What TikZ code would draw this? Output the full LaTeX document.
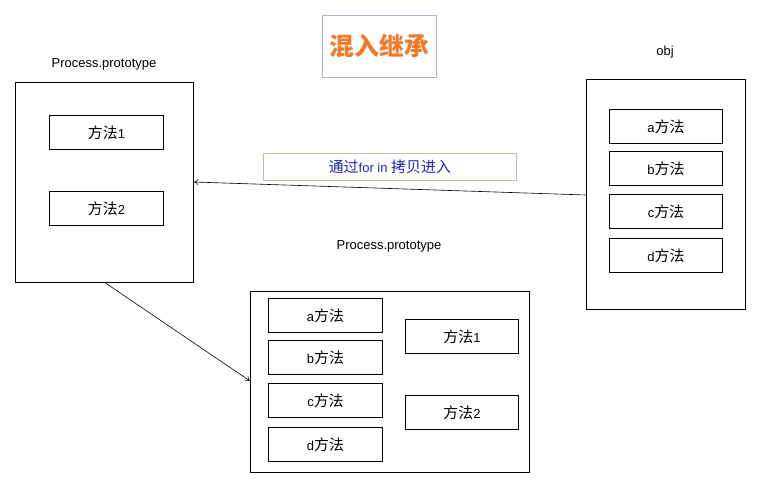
\documentclass[tikz,border=0pt]{standalone}
\usepackage{fontspec}
\setmainfont{Liberation Sans}
\newfontfamily\cjk[Scale=1.15]{Noto Sans CJK SC}
\usetikzlibrary{arrows.meta}
\newcommand{\zh}[1]{{\cjk #1}}
\definecolor{titleorange}{HTML}{F07A2A}
\definecolor{titleframe}{HTML}{AAB6C8}
\definecolor{noteframe}{HTML}{C8BBA6}
\definecolor{noteblue}{HTML}{2222B8}
\begin{document}
\begin{tikzpicture}[x=1pt,y=-1pt,
  every node/.style={font=\fontsize{13}{15}\selectfont},
  frame/.style={draw=black,line width=0.9pt,inner sep=0pt},
  method/.style={draw=black,line width=0.9pt,minimum width=114pt,minimum height=34pt,inner sep=0pt,anchor=north west},
  caption/.style={inner sep=0pt},
  link/.style={draw=black,line width=0.6pt,-{To[length=4.5pt,width=6pt]}}]
\useasboundingbox (0,0) rectangle (760,498);

% title
\node[draw=titleframe,line width=0.8pt,minimum width=114pt,minimum height=62pt,anchor=north west,inner sep=0pt,
      font=\fontsize{21.5}{24}\selectfont\bfseries,text=titleorange] (title) at (322,15) {\zh{混入继承}};

% left prototype
\node[caption] (lcap) at (104,64) {Process.prototype};
\node[frame,minimum width=178pt,minimum height=200pt,anchor=north west] (left) at (15,82) {};
\node[method] (l1) at (49,115) {\zh{方法}1};
\node[method] (l2) at (49,191) {\zh{方法}2};

% obj
\node[caption] (ocap) at (665,52) {obj};
\node[frame,minimum width=159pt,minimum height=230pt,anchor=north west] (obj) at (586,79) {};
\node[method,minimum width=113pt] (oa) at (609,109) {a\zh{方法}};
\node[method,minimum width=113pt] (ob) at (609,151) {b\zh{方法}};
\node[method,minimum width=113pt] (oc) at (609,194) {c\zh{方法}};
\node[method,minimum width=113pt] (od) at (609,238) {d\zh{方法}};

% copy note
\node[draw=noteframe,line width=0.8pt,minimum width=253pt,minimum height=27pt,anchor=north west,inner sep=0pt,text=noteblue] (note) at (263,153) {\zh{通过}for in \zh{拷贝进入}};

% result prototype
\node[caption] (rcap) at (389,246) {Process.prototype};
\node[frame,minimum width=279pt,minimum height=181pt,anchor=north west] (res) at (250,291) {};
\node[method] (ra) at (268,298) {a\zh{方法}};
\node[method] (rb) at (268,340) {b\zh{方法}};
\node[method] (rc) at (268,383) {c\zh{方法}};
\node[method] (rd) at (268,427) {d\zh{方法}};
\node[method,minimum width=113pt] (r1) at (405,319) {\zh{方法}1};
\node[method,minimum width=113pt] (r2) at (405,395) {\zh{方法}2};

% connectors
\coordinate (objin) at (obj.west |- 0,195);
\coordinate (leftin) at (left.east |- 0,182);
\draw[link] (objin) -- (leftin);
\coordinate (leftout) at (104,282);
\coordinate (resin) at (res.west |- 0,381);
\draw[link] (leftout) -- (resin);
\end{tikzpicture}
\end{document}
